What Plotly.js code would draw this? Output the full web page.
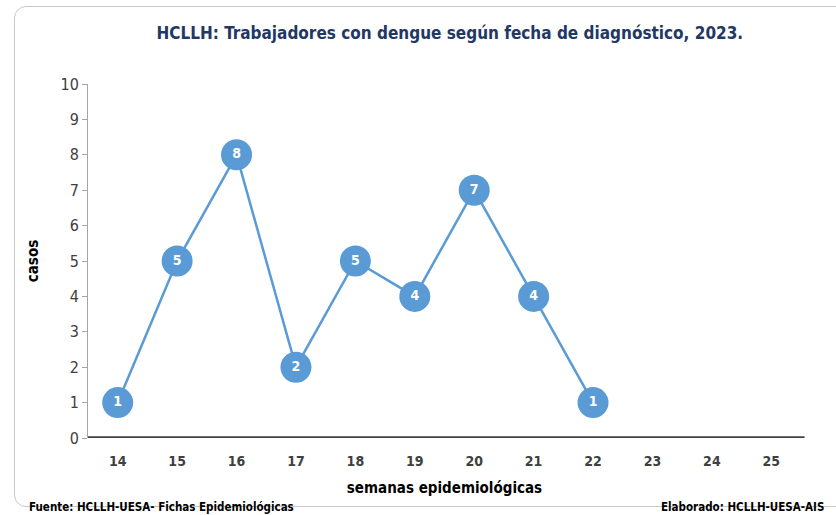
<!DOCTYPE html>
<html>
<head>
<meta charset="utf-8">
<script src="https://cdn.plot.ly/plotly-3.0.1.min.js"></script>
<style>
  body { margin: 0; background: #fff; }
  #wrap { position: relative; width: 836px; height: 515px; }
  #frame { position: absolute; left: 14px; top: 6px; width: 840px; height: 501px;
           border: 1.5px solid #c8c8c8; border-radius: 12px; box-sizing: border-box; }
  #chart { position: absolute; left: 0; top: 0; width: 836px; height: 515px; }
</style>
</head>
<body>
<div id="wrap">
  <div id="frame"></div>
  <div id="chart"></div>
</div>
<script>
// semanas epidemiológicas y casos
var semanas = ['14', '15', '16', '17', '18', '19', '20', '21', '22', '23', '24', '25'];
var casosSemanas = ['14', '15', '16', '17', '18', '19', '20', '21', '22'];
var casos = [1, 5, 8, 2, 5, 4, 7, 4, 1];
var yTicks = [0, 1, 2, 3, 4, 5, 6, 7, 8, 9, 10];

var fuente = 'Fuente: HCLLH-UESA- Fichas Epidemiológicas';
var elaborado = 'Elaborado: HCLLH-UESA-AIS';

var FONT = '"DejaVu Sans Condensed", "Liberation Sans Narrow", Arial, sans-serif';

var trace = {
    type: 'scatter',
    mode: 'lines+markers+text',
    x: casosSemanas,
    y: casos,
    text: casos.map(String),
    textposition: 'middle center',
    textfont: { family: FONT, size: 14, color: '#ffffff', weight: 'bold' },
    line: { color: '#5b9bd5', width: 2.5 },
    marker: { size: 31, color: '#5b9bd5', line: { width: 0 } },
    hoverinfo: 'none',
    cliponaxis: false
};

var layout = {
    width: 836,
    height: 515,
    margin: { l: 88, r: 35, t: 84, b: 77 },
    paper_bgcolor: 'rgba(0,0,0,0)',
    plot_bgcolor: 'rgba(0,0,0,0)',
    showlegend: false,
    title: {
        text: '<b>HCLLH: Trabajadores con dengue según fecha de diagnóstico, 2023.</b>',
        font: { family: FONT, size: 17, color: '#1f3864' },
        x: 0.538, xanchor: 'center',
        y: 0.936, yanchor: 'middle'
    },
    xaxis: {
        type: 'category',
        categoryorder: 'array',
        categoryarray: semanas,
        tickvals: semanas,
        range: [-0.5, 11.5],
        showgrid: false,
        zeroline: false,
        showline: false,
        ticks: '',
        tickfont: { family: FONT, size: 14, color: '#404040', weight: 'bold' },
        ticklabelstandoff: 13,
        title: {
            text: '<b>semanas epidemiológicas</b>',
            font: { family: FONT, size: 15, color: '#000000' },
            standoff: 14
        }
    },
    yaxis: {
        range: [0, 10],
        tickvals: yTicks,
        showgrid: false,
        zeroline: false,
        showline: true,
        linecolor: '#a6a6a6',
        linewidth: 1,
        ticks: 'outside',
        ticklen: 5,
        tickcolor: '#a6a6a6',
        tickfont: { family: FONT, size: 16, color: '#404040' },
        title: {
            text: '<b>casos</b>',
            font: { family: FONT, size: 15, color: '#000000' },
            standoff: 18
        }
    },
    shapes: [
        // eje x grueso
        { type: 'line', xref: 'paper', yref: 'y', x0: 0, x1: 1.005, y0: 0, y1: 0,
          line: { color: '#404040', width: 3.5 }, layer: 'above' }
    ],
    annotations: [
        { text: '<b>' + fuente + '</b>', xref: 'paper', yref: 'paper',
          x: -0.085, y: -0.196, xanchor: 'left', yanchor: 'middle', showarrow: false,
          font: { family: FONT, size: 11.5, color: '#000000' } },
        { text: '<b>' + elaborado + '</b>', xref: 'paper', yref: 'paper',
          x: 1.035, y: -0.196, xanchor: 'right', yanchor: 'middle', showarrow: false,
          font: { family: FONT, size: 11.5, color: '#000000' } }
    ]
};

Plotly.newPlot('chart', [trace], layout, { displayModeBar: false, staticPlot: true });
</script>
</body>
</html>
